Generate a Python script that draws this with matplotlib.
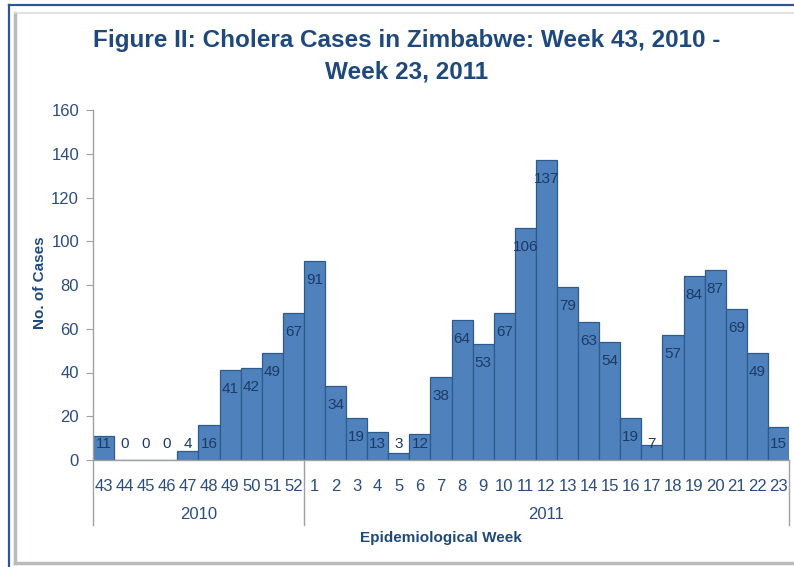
import matplotlib
matplotlib.use("Agg")
import matplotlib.pyplot as plt
from matplotlib.lines import Line2D
from matplotlib import font_manager

weeks_2010 = ["43", "44", "45", "46", "47", "48", "49", "50", "51", "52"]
weeks_2011 = [str(w) for w in range(1, 24)]
cases_2010 = [11, 0, 0, 0, 4, 16, 41, 42, 49, 67]
cases_2011 = [91, 34, 19, 13, 3, 12, 38, 64, 53, 67, 106, 137, 79, 63, 54,
              19, 7, 57, 84, 87, 69, 49, 15]
years = ["2010", "2011"]
yticks = [0, 20, 40, 60, 80, 100, 120, 140, 160]

names = {f.name for f in font_manager.fontManager.ttflist}
narrow = "Liberation Sans Narrow" if "Liberation Sans Narrow" in names else "Liberation Sans"
FAM = [narrow, "Liberation Sans", "DejaVu Sans"]
plt.rcParams["font.family"] = FAM

labels = weeks_2010 + weeks_2011
values = cases_2010 + cases_2011
x = list(range(len(values)))

W, H = 794, 567
fig = plt.figure(figsize=(W / 100, H / 100), dpi=100)
ax = fig.add_axes([93 / W, (H - 460) / H, (789 - 93) / W, 350 / H])

ax.bar(x, values, width=1.0, color="#4F81BD", edgecolor="#2E5A8C", linewidth=0.9, zorder=2)
ax.set_xlim(-0.5, len(values) - 0.5)
ax.set_ylim(0, 160)
ax.set_yticks(yticks)

tick_col = "#2B4C7E"
lab_col = "#1C3A66"
ax.tick_params(axis="y", direction="out", length=5, color="#A0A0A0", labelsize=12,
               labelcolor=tick_col, pad=5)
ax.set_xticks(x)
ax.set_xticklabels(labels)
ax.tick_params(axis="x", length=0, labelsize=12, labelcolor=tick_col, pad=14)
for s in ["top", "right"]:
    ax.spines[s].set_visible(False)
for s in ["left", "bottom"]:
    ax.spines[s].set_color("#A0A0A0")
    ax.spines[s].set_linewidth(1.0)

for xi, v in zip(x, values):
    ypos = max(v - 8.7, 7.3)
    ax.text(xi, ypos, str(v), ha="center", va="center", fontsize=11,
            color=lab_col, zorder=3)

# year group separators and labels
n10 = len(cases_2010)
tr = ax.get_xaxis_transform()
for xb in [-0.5, n10 - 0.5, len(values) - 0.5]:
    ax.add_line(Line2D([xb, xb], [0, -0.186], transform=tr, color="#A0A0A0",
                       linewidth=1.0, clip_on=False))
ax.text((n10 - 1) / 2, -0.157, years[0], transform=tr, ha="center", va="center",
        fontsize=12, color=tick_col)
ax.text((n10 + len(values) - 1) / 2, -0.157, years[1], transform=tr, ha="center",
        va="center", fontsize=12, color=tick_col)

title_col = "#1F497D"
fig.text(441 / W, 1 - 538 / H, "Epidemiological Week", ha="center", va="center",
         fontsize=11, fontweight="bold", color=title_col)
fig.text(40 / W, 1 - 283 / H, "No. of Cases", ha="center", va="center", rotation=90,
         fontsize=11, fontweight="bold", color=title_col)
fig.text(407 / W, 1 - 40 / H, "Figure II: Cholera Cases in Zimbabwe: Week 43, 2010 -",
         ha="center", va="center", fontsize=17.5, fontweight="bold", color=title_col)
fig.text(407 / W, 1 - 72 / H, "Week 23, 2011", ha="center", va="center",
         fontsize=17.5, fontweight="bold", color=title_col)

# frame decorations
fig.add_artist(Line2D([8.5 / W, 8.5 / W], [0, 1 - 4.5 / H], transform=fig.transFigure,
                      color="#2F5597", linewidth=1.6))
fig.add_artist(Line2D([8.5 / W, 1], [1 - 4.5 / H, 1 - 4.5 / H], transform=fig.transFigure,
                      color="#2F5597", linewidth=1.6))
fig.add_artist(Line2D([14.5 / W, 14.5 / W], [1 - 563 / H, 1 - 13 / H], transform=fig.transFigure,
                      color="#BBBBBB", linewidth=2.5))
fig.add_artist(Line2D([14.5 / W, 1], [1 - 13 / H, 1 - 13 / H], transform=fig.transFigure,
                      color="#DDDDDD", linewidth=1.2))
fig.add_artist(Line2D([14.5 / W, 1], [1 - 563 / H, 1 - 563 / H], transform=fig.transFigure,
                      color="#BBBBBB", linewidth=2.5))

fig.savefig("out.png", dpi=100)
